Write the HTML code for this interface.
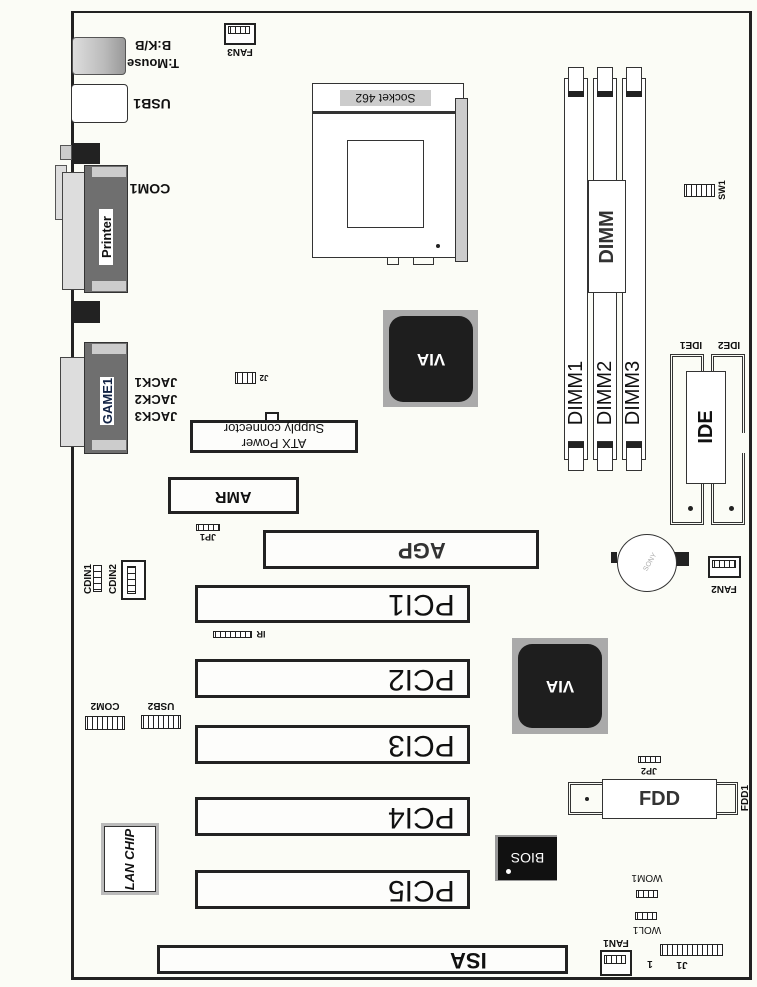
<!DOCTYPE html>
<html><head><meta charset="utf-8"><style>
body{margin:0;background:#fff;}
#b{position:relative;width:757px;height:987px;background:#fbfcf6;overflow:hidden;font-family:"Liberation Sans",sans-serif;}
#b div{position:absolute;box-sizing:border-box;}
.bx{border:3px solid #222;background:#fdfdfb;}
.t{display:flex;align-items:center;justify-content:center;white-space:nowrap;color:#111;}
.u{transform:rotate(180deg);}
.v{transform:rotate(-90deg);}
.hd{border:1.5px solid #222;background:repeating-linear-gradient(90deg,#fff 0 1px,#222 1px 2px,#fff 2px 5px);}
.pci{font-size:30px;justify-content:flex-end;padding-left:10px;}
</style></head><body><div id="b">
<!-- board -->
<div style="left:71px;top:11px;width:681px;height:969px;border:3px solid #222;border-top-width:2px;"></div>

<!-- KB/mouse -->
<div style="left:72px;top:37px;width:54px;height:38px;border:1.5px solid #555;border-radius:4px;background:linear-gradient(90deg,#ddd,#bbb 60%,#999);"></div>
<div class="t u" style="left:128px;top:39px;width:50px;height:14px;font-size:13px;font-weight:bold;">B:K/B</div>
<div class="t u" style="left:128px;top:57px;width:50px;height:14px;font-size:13px;font-weight:bold;">T:Mouse</div>
<!-- FAN3 -->
<div style="left:224px;top:23px;width:32px;height:22px;border:2px solid #222;background:#fff;"></div>
<div class="hd" style="left:228px;top:26px;width:22px;height:8px;"></div>
<div class="t u" style="left:222px;top:46px;width:36px;height:12px;font-size:10px;font-weight:bold;">FAN3</div>
<!-- USB1 -->
<div style="left:71px;top:84px;width:57px;height:39px;border:1.5px solid #333;border-radius:4px;background:#fff;"></div>
<div class="t u" style="left:132px;top:96px;width:40px;height:16px;font-size:14px;font-weight:bold;">USB1</div>

<!-- Printer/COM1 -->
<div style="left:72px;top:143px;width:28px;height:21px;background:#222;"></div>
<div style="left:60px;top:145px;width:12px;height:15px;background:#ccc;border:1px solid #555;"></div>
<div style="left:55px;top:165px;width:12px;height:55px;background:#ddd;border:1px solid #555;"></div>
<div style="left:62px;top:172px;width:25px;height:118px;background:#ddd;border:1.5px solid #444;"></div>
<div style="left:84px;top:165px;width:44px;height:128px;background:#6f6f6f;border:1.5px solid #333;"></div>
<div style="left:92px;top:167px;width:34px;height:10px;background:#ccc;"></div>
<div style="left:92px;top:281px;width:34px;height:10px;background:#ccc;"></div>
<div style="left:72px;top:301px;width:28px;height:22px;background:#222;"></div>
<div class="t v" style="left:78px;top:230px;width:56px;height:14px;background:#fff;font-size:13px;font-weight:bold;">Printer</div>
<div class="t u" style="left:130px;top:181px;width:40px;height:16px;font-size:14px;font-weight:bold;">COM1</div>

<!-- GAME1 -->
<div style="left:60px;top:357px;width:28px;height:90px;background:#ddd;border:1.5px solid #444;"></div>
<div style="left:84px;top:342px;width:44px;height:112px;background:#6f6f6f;border:1.5px solid #333;"></div>
<div style="left:92px;top:344px;width:34px;height:10px;background:#ccc;"></div>
<div style="left:92px;top:440px;width:34px;height:10px;background:#ccc;"></div>
<div class="t v" style="left:83px;top:394px;width:48px;height:14px;background:#fff;font-size:13px;font-weight:bold;color:#124;">GAME1</div>
<div class="t u" style="left:132px;top:376px;width:48px;height:14px;font-size:13px;font-weight:bold;">JACK1</div>
<div class="t u" style="left:132px;top:393px;width:48px;height:14px;font-size:13px;font-weight:bold;">JACK2</div>
<div class="t u" style="left:132px;top:410px;width:48px;height:14px;font-size:13px;font-weight:bold;">JACK3</div>
<!-- J2 -->
<div class="hd" style="left:235px;top:372px;width:21px;height:12px;"></div>
<div class="t u" style="left:258px;top:373px;width:12px;height:10px;font-size:8px;font-weight:bold;">J2</div>

<!-- ATX -->
<div style="left:265px;top:412px;width:14px;height:10px;border:2px solid #222;background:#fff;"></div>
<div class="bx" style="left:190px;top:420px;width:168px;height:33px;"></div>
<div class="t u" style="left:190px;top:421px;width:168px;height:15px;font-size:13px;">Supply connector</div>
<div class="t u" style="left:190px;top:436px;width:168px;height:15px;font-size:13px;">ATX Power</div>

<!-- Socket -->
<div style="left:312px;top:83px;width:152px;height:175px;border:1.5px solid #333;background:#fff;"></div>
<div style="left:312px;top:111px;width:152px;height:3px;background:#333;"></div>
<div class="t u" style="left:340px;top:90px;width:91px;height:16px;background:#ccc;font-size:12px;">Socket 462</div>
<div style="left:347px;top:140px;width:77px;height:88px;border:1.5px solid #333;"></div>
<div style="left:455px;top:98px;width:13px;height:164px;border:1.5px solid #333;background:#ccc;"></div>
<div style="left:436px;top:244px;width:4px;height:4px;border-radius:50%;background:#222;"></div>
<div style="left:387px;top:257px;width:12px;height:8px;border:1.5px solid #333;"></div>
<div style="left:413px;top:257px;width:21px;height:8px;border:1.5px solid #333;"></div>

<!-- VIA north -->
<div style="left:383px;top:310px;width:95px;height:97px;background:#aaa;"></div>
<div class="t u" style="left:389px;top:316px;width:84px;height:86px;background:#1e1e1e;border-radius:14px;color:#fff;font-size:17px;font-weight:bold;">VIA</div>

<!-- DIMMs -->
<div style="left:564px;top:78px;width:24px;height:382px;border:1.5px solid #333;background:#fff;"></div>
<div style="left:593px;top:78px;width:24px;height:382px;border:1.5px solid #333;background:#fff;"></div>
<div style="left:622px;top:78px;width:24px;height:382px;border:1.5px solid #333;background:#fff;"></div>
<div style="left:568px;top:67px;width:16px;height:30px;border:1.5px solid #333;background:#fff;"></div>
<div style="left:597px;top:67px;width:16px;height:30px;border:1.5px solid #333;background:#fff;"></div>
<div style="left:626px;top:67px;width:16px;height:30px;border:1.5px solid #333;background:#fff;"></div>
<div style="left:568px;top:91px;width:16px;height:6px;background:#222;"></div>
<div style="left:597px;top:91px;width:16px;height:6px;background:#222;"></div>
<div style="left:626px;top:91px;width:16px;height:6px;background:#222;"></div>
<div style="left:568px;top:441px;width:16px;height:30px;border:1.5px solid #333;background:#fff;"></div>
<div style="left:597px;top:441px;width:16px;height:30px;border:1.5px solid #333;background:#fff;"></div>
<div style="left:626px;top:441px;width:16px;height:30px;border:1.5px solid #333;background:#fff;"></div>
<div style="left:568px;top:442px;width:16px;height:6px;background:#222;"></div>
<div style="left:597px;top:442px;width:16px;height:6px;background:#222;"></div>
<div style="left:626px;top:442px;width:16px;height:6px;background:#222;"></div>
<div style="left:588px;top:180px;width:38px;height:113px;border:1.5px solid #333;background:#fff;"></div>
<div class="t v" style="left:567px;top:226px;width:80px;height:22px;font-size:20px;font-weight:bold;color:#333;">DIMM</div>
<div class="t v" style="left:536px;top:383px;width:80px;height:20px;font-size:20px;">DIMM1</div>
<div class="t v" style="left:565px;top:383px;width:80px;height:20px;font-size:20px;">DIMM2</div>
<div class="t v" style="left:593px;top:383px;width:80px;height:20px;font-size:20px;">DIMM3</div>
<!-- SW1 -->
<div class="hd" style="left:684px;top:184px;width:31px;height:13px;"></div>
<div class="t v" style="left:713px;top:185px;width:18px;height:10px;font-size:9px;font-weight:bold;">SW1</div>

<!-- IDE -->
<div style="left:670px;top:354px;width:34px;height:171px;border:3px double #333;"></div>
<div style="left:711px;top:354px;width:34px;height:171px;border:3px double #333;"></div>
<div style="left:740px;top:433px;width:6px;height:20px;background:#fbfcf6;"></div>
<div style="left:686px;top:371px;width:40px;height:113px;border:1.5px solid #333;background:#fff;"></div>
<div class="t v" style="left:681px;top:416px;width:50px;height:22px;font-size:20px;font-weight:bold;">IDE</div>
<div style="left:688px;top:506px;width:5px;height:5px;border-radius:50%;background:#222;"></div>
<div style="left:729px;top:506px;width:5px;height:5px;border-radius:50%;background:#222;"></div>
<div class="t u" style="left:676px;top:339px;width:30px;height:12px;font-size:10px;font-weight:bold;">IDE1</div>
<div class="t u" style="left:714px;top:339px;width:30px;height:12px;font-size:10px;font-weight:bold;">IDE2</div>

<!-- AMR -->
<div class="bx t" style="left:168px;top:477px;width:131px;height:37px;"><span class="u" style="font-size:16px;font-weight:bold;display:inline-block;">AMR</span></div>
<div class="hd" style="left:196px;top:524px;width:24px;height:7px;"></div>
<div class="t u" style="left:196px;top:532px;width:24px;height:10px;font-size:9px;font-weight:bold;">JP1</div>
<!-- AGP -->
<div class="bx t" style="left:263px;top:530px;width:276px;height:39px;justify-content:flex-end;padding-right:90px;"><span class="u" style="font-size:22px;font-weight:bold;color:#333;display:inline-block;">AGP</span></div>

<!-- CDIN -->
<div class="t v" style="left:68px;top:573px;width:40px;height:12px;font-size:10px;font-weight:bold;">CDIN1</div>
<div class="hd" style="left:93px;top:565px;width:9px;height:27px;background:repeating-linear-gradient(0deg,#fff 0 1px,#222 1px 2px,#fff 2px 6px);"></div>
<div class="t v" style="left:93px;top:573px;width:40px;height:12px;font-size:10px;font-weight:bold;">CDIN2</div>
<div style="left:121px;top:560px;width:25px;height:40px;border:2px solid #222;background:#fff;"></div>
<div class="hd" style="left:127px;top:566px;width:9px;height:28px;background:repeating-linear-gradient(0deg,#fff 0 1px,#222 1px 2px,#fff 2px 6px);"></div>

<!-- PCI -->
<div class="bx t pci" style="left:195px;top:585px;width:275px;height:38px;"><span class="u" style="display:inline-block;margin-right:12px;">PCI1</span></div>
<div class="hd" style="left:213px;top:631px;width:39px;height:7px;"></div>
<div class="t u" style="left:254px;top:629px;width:14px;height:11px;font-size:9px;font-weight:bold;">IR</div>
<div class="bx t pci" style="left:195px;top:659px;width:275px;height:39px;"><span class="u" style="display:inline-block;margin-right:12px;">PCI2</span></div>
<div class="bx t pci" style="left:195px;top:725px;width:275px;height:39px;"><span class="u" style="display:inline-block;margin-right:12px;">PCI3</span></div>
<div class="bx t pci" style="left:195px;top:797px;width:275px;height:39px;"><span class="u" style="display:inline-block;margin-right:12px;">PCI4</span></div>
<div class="bx t pci" style="left:195px;top:870px;width:275px;height:39px;"><span class="u" style="display:inline-block;margin-right:12px;">PCI5</span></div>

<!-- COM2/USB2 -->
<div class="t u" style="left:85px;top:700px;width:40px;height:12px;font-size:10px;font-weight:bold;">COM2</div>
<div class="hd" style="left:85px;top:716px;width:40px;height:14px;"></div>
<div class="t u" style="left:141px;top:700px;width:40px;height:12px;font-size:10px;font-weight:bold;">USB2</div>
<div class="hd" style="left:141px;top:715px;width:40px;height:14px;"></div>

<!-- VIA south -->
<div style="left:512px;top:638px;width:96px;height:96px;background:#aaa;"></div>
<div class="t u" style="left:518px;top:644px;width:84px;height:84px;background:#1e1e1e;border-radius:14px;color:#fff;font-size:17px;font-weight:bold;">VIA</div>

<!-- Battery -->
<div style="left:611px;top:552px;width:78px;height:11px;"><div style="left:0;top:0;width:6px;height:11px;background:#222;"></div><div style="left:62px;top:0;width:16px;height:14px;background:#222;"></div></div>
<div style="left:617px;top:534px;width:60px;height:58px;border:1.5px solid #333;border-radius:50%;background:#fff;"></div>
<div class="t" style="left:635px;top:557px;width:30px;height:10px;font-size:7px;color:#aaa;transform:rotate(-60deg);">SONY</div>
<!-- FAN2 -->
<div style="left:708px;top:556px;width:33px;height:22px;border:2px solid #222;background:#fff;"></div>
<div class="hd" style="left:712px;top:560px;width:24px;height:8px;"></div>
<div class="t u" style="left:706px;top:583px;width:36px;height:12px;font-size:10px;font-weight:bold;">FAN2</div>

<!-- JP2 -->
<div class="hd" style="left:638px;top:756px;width:23px;height:7px;"></div>
<div class="t u" style="left:636px;top:766px;width:26px;height:10px;font-size:9px;font-weight:bold;">JP2</div>

<!-- FDD -->
<div style="left:568px;top:782px;width:170px;height:33px;border:3px double #333;"></div>
<div style="left:585px;top:797px;width:4px;height:4px;border-radius:50%;background:#222;"></div>
<div class="t" style="left:602px;top:779px;width:115px;height:40px;border:1.5px solid #333;background:#fff;font-size:20px;font-weight:bold;color:#333;">FDD</div>
<div class="t v" style="left:730px;top:792px;width:30px;height:12px;font-size:10px;font-weight:bold;">FDD1</div>

<!-- BIOS -->
<div style="left:495px;top:835px;width:62px;height:46px;background:#999;"></div>
<div class="t u" style="left:498px;top:837px;width:59px;height:43px;background:#111;color:#fff;font-size:14px;">BIOS</div>
<div style="left:506px;top:869px;width:5px;height:5px;border-radius:50%;background:#fff;"></div>

<!-- LAN -->
<div style="left:101px;top:823px;width:58px;height:72px;background:#bbb;"></div>
<div class="t" style="left:104px;top:826px;width:52px;height:66px;border:1.5px solid #333;background:#fff;"><span style="display:inline-block;transform:rotate(-90deg);font-size:13px;font-weight:bold;font-style:italic;white-space:nowrap;">LAN CHIP</span></div>

<!-- WOM/WOL -->
<div class="t u" style="left:632px;top:872px;width:30px;height:11px;font-size:10px;">WOM1</div>
<div class="hd" style="left:636px;top:890px;width:22px;height:8px;"></div>
<div class="hd" style="left:635px;top:912px;width:22px;height:8px;"></div>
<div class="t u" style="left:632px;top:924px;width:30px;height:11px;font-size:10px;">WOL1</div>

<!-- ISA -->
<div class="bx t" style="left:157px;top:945px;width:411px;height:29px;justify-content:flex-end;padding-right:78px;"><span class="u" style="display:inline-block;font-size:22px;font-weight:bold;">ISA</span></div>
<!-- FAN1 -->
<div class="t u" style="left:598px;top:937px;width:36px;height:12px;font-size:10px;font-weight:bold;">FAN1</div>
<div style="left:600px;top:950px;width:32px;height:26px;border:2px solid #222;background:#fff;"></div>
<div class="hd" style="left:604px;top:955px;width:22px;height:9px;"></div>
<!-- J1 -->
<div class="hd" style="left:660px;top:944px;width:63px;height:12px;"></div>
<div class="t u" style="left:645px;top:958px;width:10px;height:11px;font-size:10px;font-weight:bold;">1</div>
<div class="t u" style="left:674px;top:959px;width:16px;height:11px;font-size:10px;font-weight:bold;">J1</div>
</div></body></html>
